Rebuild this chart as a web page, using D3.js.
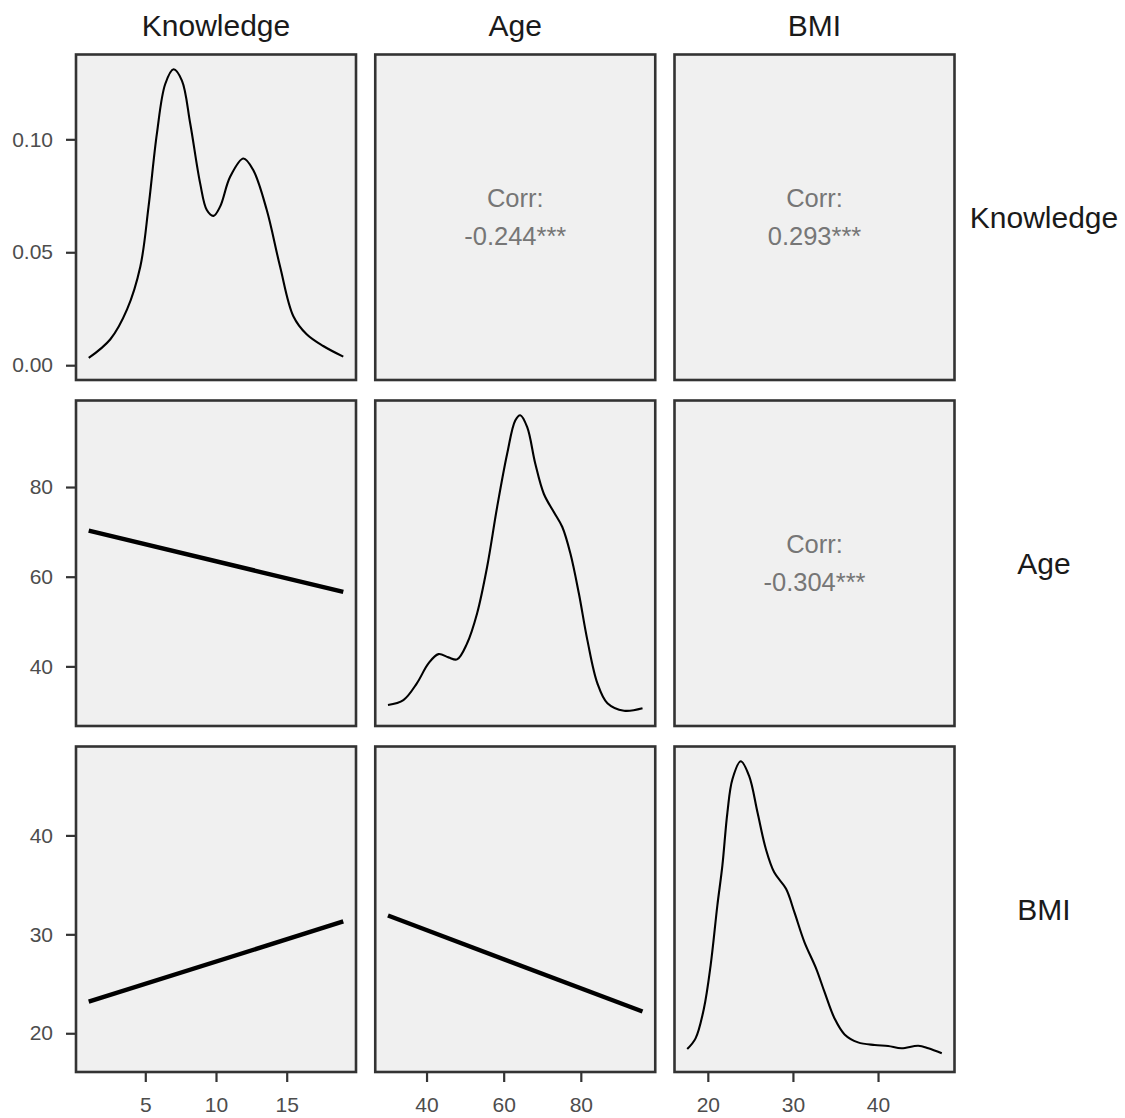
<!DOCTYPE html>
<html>
<head>
<meta charset="utf-8">
<script src="https://cdn.jsdelivr.net/npm/d3@7"></script>
<style>
  body { margin: 0; background: #ffffff; }
  text { font-family: "Liberation Sans", Arial, sans-serif; }
</style>
</head>
<body>
<div id="pairs"></div>
<script>

//Variables shown in the matrix
var variables = ["Knowledge", "Age", "BMI"];

//Density curves (x value, density)
var knowledgeX = [1, 2.53, 3.71, 4.65, 5.23, 5.82, 6.41, 7.0, 7.59, 8.18, 8.88, 9.35, 9.82, 10.29, 11.0, 11.94, 12.64, 13.59, 14.53, 15.47, 16.41, 17.58, 19];
var knowledgeD = [0.0032, 0.0115, 0.0247, 0.0437, 0.0702, 0.1025, 0.1245, 0.131, 0.126, 0.1069, 0.0805, 0.0687, 0.0661, 0.0702, 0.0834, 0.0915, 0.0863, 0.0687, 0.0437, 0.0217, 0.0137, 0.0085, 0.0038];

var ageX = [30, 33.99, 37.48, 40.5, 43.1, 45.7, 47.9, 50.5, 53.1, 55.7, 58.3, 60.9, 63.0, 64.3, 66.1, 68.2, 70.4, 73.0, 75.2, 77.3, 79.5, 81.7, 84.3, 86.9, 91.2, 96];
var ageD = [0.00065, 0.00117, 0.00292, 0.00501, 0.00598, 0.00564, 0.00543, 0.0071, 0.01024, 0.01511, 0.02139, 0.02698, 0.03046, 0.03101, 0.02976, 0.02593, 0.02279, 0.02087, 0.0193, 0.01652, 0.01233, 0.00745, 0.00292, 0.00083, 0.00005, 0.0003];

var bmiX = [17.58, 18.56, 19.54, 20.33, 21.12, 21.71, 22.3, 22.89, 23.87, 24.85, 25.84, 26.82, 27.8, 29.19, 30.17, 31.35, 32.73, 33.71, 34.89, 36.07, 37.65, 39.61, 41.19, 42.76, 44.73, 45.91, 47.49];
var bmiD = [0.00248, 0.00573, 0.01481, 0.02794, 0.04612, 0.05824, 0.07439, 0.08451, 0.08996, 0.08551, 0.07439, 0.0633, 0.05621, 0.05118, 0.04409, 0.035, 0.02694, 0.01985, 0.01179, 0.00694, 0.00451, 0.0037, 0.00339, 0.0027, 0.00348, 0.0027, 0.00118];

//Fitted lines in the lower panels (row, col, x ends, y ends)
var lineRows = [1, 2, 2];
var lineCols = [0, 0, 1];
var lineX = [[1, 19], [1, 19], [30, 96]];
var lineY = [[70.3, 56.6], [23.2, 31.3], [31.9, 22.2]];

//Correlations in the upper panels
var corrRows = [0, 0, 1];
var corrCols = [1, 2, 2];
var corrLabels = ["-0.244***", "0.293***", "-0.304***"];

//Tick labels
var xTicks = [[5, 10, 15], [40, 60, 80], [20, 30, 40]];
var yTicks = [[0, 0.05, 0.10], [40, 60, 80], [20, 30, 40]];

//Layout
var chartWidth = 1125, chartHeight = 1118;
var marginLeft = 76, marginTop = 54.5;
var panelW = 280, panelH = 325.5;
var gapX = 19.25, gapY = 20.5;

var densities = [
    knowledgeX.map((x, i) => ({x: x, d: knowledgeD[i]})),
    ageX.map((x, i) => ({x: x, d: ageD[i]})),
    bmiX.map((x, i) => ({x: x, d: bmiD[i]}))
];

function colX(i) { return marginLeft + i * (panelW + gapX); }
function rowY(i) { return marginTop + i * (panelH + gapY); }

//Padded ranges like ggplot (5% each side)
function padded(ext) {
    var r = ext[1] - ext[0];
    return [ext[0] - r * 0.05, ext[1] + r * 0.05];
}

var ranges = densities.map(dd => padded(d3.extent(dd, d => d.x)));

var xScales = ranges.map((r, i) => d3.scaleLinear().domain(r).range([colX(i), colX(i) + panelW]));
var yScales = ranges.map((r, i) => d3.scaleLinear().domain(r).range([rowY(i) + panelH, rowY(i)]));

//Density y scales include zero
var dScales = densities.map((dd, i) => {
    var m = d3.max(dd, d => d.d);
    return d3.scaleLinear().domain([-0.05 * m, 1.05 * m]).range([rowY(i) + panelH, rowY(i)]);
});

var svg = d3.select("#pairs")
    .append("svg")
    .attr("width", chartWidth)
    .attr("height", chartHeight);

//Panel backgrounds and borders
var cells = [];
variables.forEach((r, ri) => variables.forEach((c, ci) => cells.push({r: ri, c: ci})));

svg.append("g")
    .attr("class", "panels")
    .selectAll("rect")
    .data(cells)
    .enter()
    .append("rect")
        .attr("x", d => colX(d.c))
        .attr("y", d => rowY(d.r))
        .attr("width", panelW)
        .attr("height", panelH)
        .attr("fill", "#f0f0f0")
        .attr("stroke", "#333333")
        .attr("stroke-width", 2.6);

//Density curves on the diagonal
var densLine = (i) => d3.line()
    .x(d => xScales[i](d.x))
    .y(d => dScales[i](d.d))
    .curve(d3.curveCatmullRom.alpha(0.5));

svg.append("g")
    .attr("class", "densities")
    .selectAll("path")
    .data(densities)
    .enter()
    .append("path")
        .attr("d", (d, i) => densLine(i)(d))
        .attr("fill", "none")
        .attr("stroke", "#000000")
        .attr("stroke-width", 2.1);

//Fitted lines in the lower panels
svg.append("g")
    .attr("class", "fits")
    .selectAll("line")
    .data(lineRows)
    .enter()
    .append("line")
        .attr("x1", (r, i) => xScales[lineCols[i]](lineX[i][0]))
        .attr("x2", (r, i) => xScales[lineCols[i]](lineX[i][1]))
        .attr("y1", (r, i) => yScales[r](lineY[i][0]))
        .attr("y2", (r, i) => yScales[r](lineY[i][1]))
        .attr("stroke", "#000000")
        .attr("stroke-width", 4.4);

//Correlation text in the upper panels
var corr = svg.append("g")
    .attr("class", "corr")
    .selectAll("g")
    .data(corrLabels)
    .enter()
    .append("g")
        .attr("transform", (d, i) => "translate(" + (colX(corrCols[i]) + panelW / 2) + "," + (rowY(corrRows[i]) + panelH / 2) + ")");

corr.append("text")
    .attr("y", -19)
    .attr("text-anchor", "middle")
    .attr("dominant-baseline", "central")
    .style("font-size", "25.5px")
    .style("fill", "#767676")
    .text("Corr:");

corr.append("text")
    .attr("y", 19)
    .attr("text-anchor", "middle")
    .attr("dominant-baseline", "central")
    .style("font-size", "25.5px")
    .style("fill", "#767676")
    .text(d => d);

//Axes: left column and bottom row
function styleAxis(g) {
    g.select(".domain").remove();
    g.selectAll(".tick line").attr("stroke", "#333333").attr("stroke-width", 2.2);
    g.selectAll(".tick text")
        .style("font-size", "21px")
        .style("fill", "#4d4d4d")
        .style("font-family", "'Liberation Sans', Arial, sans-serif");
}

variables.forEach((v, i) => {
    var yScale = i == 0 ? dScales[0] : yScales[i];
    svg.append("g")
        .attr("transform", "translate(" + (marginLeft - 1) + ",0)")
        .call(d3.axisLeft(yScale)
            .tickValues(yTicks[i])
            .tickSize(9)
            .tickPadding(13)
            .tickFormat(i == 0 ? d3.format(".2f") : d3.format("d")))
        .call(styleAxis);

    svg.append("g")
        .attr("transform", "translate(0," + (rowY(2) + panelH + 1) + ")")
        .call(d3.axisBottom(xScales[i])
            .tickValues(xTicks[i])
            .tickSize(9)
            .tickPadding(15)
            .tickFormat(d3.format("d")))
        .call(styleAxis);
});

//Strip labels on top and right
svg.append("g")
    .attr("class", "stripTop")
    .selectAll("text")
    .data(variables)
    .enter()
    .append("text")
        .attr("x", (d, i) => colX(i) + panelW / 2)
        .attr("y", 36)
        .attr("text-anchor", "middle")
        .style("font-size", "30px")
        .style("fill", "#1a1a1a")
        .text(d => d);

svg.append("g")
    .attr("class", "stripRight")
    .selectAll("text")
    .data(variables)
    .enter()
    .append("text")
        .attr("x", 1044)
        .attr("y", (d, i) => rowY(i) + panelH / 2)
        .attr("text-anchor", "middle")
        .attr("dominant-baseline", "central")
        .style("font-size", "30px")
        .style("fill", "#1a1a1a")
        .text(d => d);

</script>
</body>
</html>
